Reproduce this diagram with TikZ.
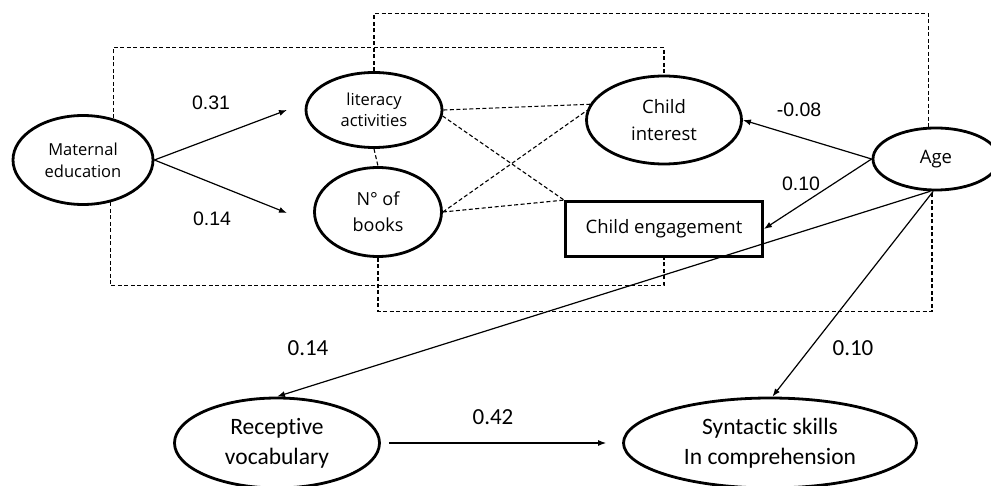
\documentclass[tikz,border=0pt]{standalone}
\usepackage{fontspec}
\setmainfont{Open Sans}
\newfontfamily\calibrifont[Ligatures=NoCommon]{Carlito}
\newfontfamily\arialfont{Liberation Sans}
\usetikzlibrary{shapes.geometric,arrows.meta}

\begin{document}
\begin{tikzpicture}[x=1pt,y=-1pt,
  latent/.style={ellipse, draw, line width=2.8pt, inner sep=0pt, align=center},
  observed/.style={rectangle, draw, line width=2.8pt, inner sep=0pt, align=center},
  path/.style={line width=1.2pt, -{Latex[length=8pt,width=6pt]}},
  link/.style={line width=1.1pt, dash pattern=on 4pt off 2.5pt},
  coef/.style={font=\arialfont\fontsize{19.5}{22}\selectfont},
  coefb/.style={font=\calibrifont\fontsize{23}{28}\selectfont}]
\useasboundingbox (0,0) rectangle (991,486);

% Maternal education and home literacy
\node[latent, minimum width=140pt, minimum height=89pt, font=\fontsize{16.5}{22}\selectfont] (mat) at (83,160) {Maternal\\education};
\node[latent, minimum width=136pt, minimum height=75pt, font=\fontsize{16.5}{21}\selectfont] (lit) at (374,110) {literacy\\activities};
\node[latent, minimum width=127pt, minimum height=89pt, font=\fontsize{18}{26}\selectfont] (books) at (378,212) {N° of\\books};

% Child variables
\node[latent, minimum width=155pt, minimum height=88pt, font=\fontsize{18.5}{27}\selectfont] (int) at (664,120) {Child\\interest};
\node[observed, minimum width=197pt, minimum height=55pt, font=\fontsize{18.5}{22}\selectfont] (eng) at (664,229) {Child engagement};
\node[latent, minimum width=126pt, minimum height=62pt, font=\fontsize{18.5}{22}\selectfont] (age) at (936,159) {Age};

% Outcomes
\node[latent, minimum width=205pt, minimum height=90pt, font=\calibrifont\fontsize{23.5}{30}\selectfont] (rec) at (277,443) {Receptive\\vocabulary};
\node[latent, minimum width=293pt, minimum height=90pt, font=\calibrifont\fontsize{23.5}{30}\selectfont] (syn) at (770,443) {Syntactic skills\\In comprehension};

% Correlations
\draw[link] (mat.54) |- ([yshift=27pt]int.north) -- (int.north);
\draw[link] (mat.-57) |- ([yshift=-28pt]eng.south) -- (eng.south);
\draw[link] (lit.north) |- ([yshift=113pt]age.103) -- (age.103);
\draw[link] (books.south) |- ([yshift=-120pt]age.-97) -- (age.-97);
\draw[link] (lit.south) -- (books.north);
\draw[link] (lit.east) -- (int.168);
\draw[link] (lit.-5) -- (eng.north west);
\draw[link] (books.east) -- (int.173);
\draw[link] (books.east) -- (eng.north west);

% Paths
\coordinate (litin) at (287,110);
\coordinate (booksin) at (287,213);
\draw[path] (mat.east) -- (litin);
\draw[path] (mat.east) -- (booksin);
\draw[path] (age.west) -- (int.east);
\draw[path] (age.west) -- (eng.east);
\draw[path] (age.-100) -- (rec.north);
\draw[path] (age.-95) -- (syn.87);
\draw[path, shorten <=8pt, shorten >=16pt] (rec.east) -- (syn.west);

% Coefficients
\node[coef] (c1) at (211,103) {0.31};
\node[coef] (c2) at (212,219) {0.14};
\node[coef] (c3) at (799,110) {-0.08};
\node[coef] (c4) at (801,184) {0.10};
\node[coefb] (c5) at (308,348) {0.14};
\node[coefb] (c6) at (853,348) {0.10};
\node[coefb] (c7) at (493,417) {0.42};
\end{tikzpicture}
\end{document}
